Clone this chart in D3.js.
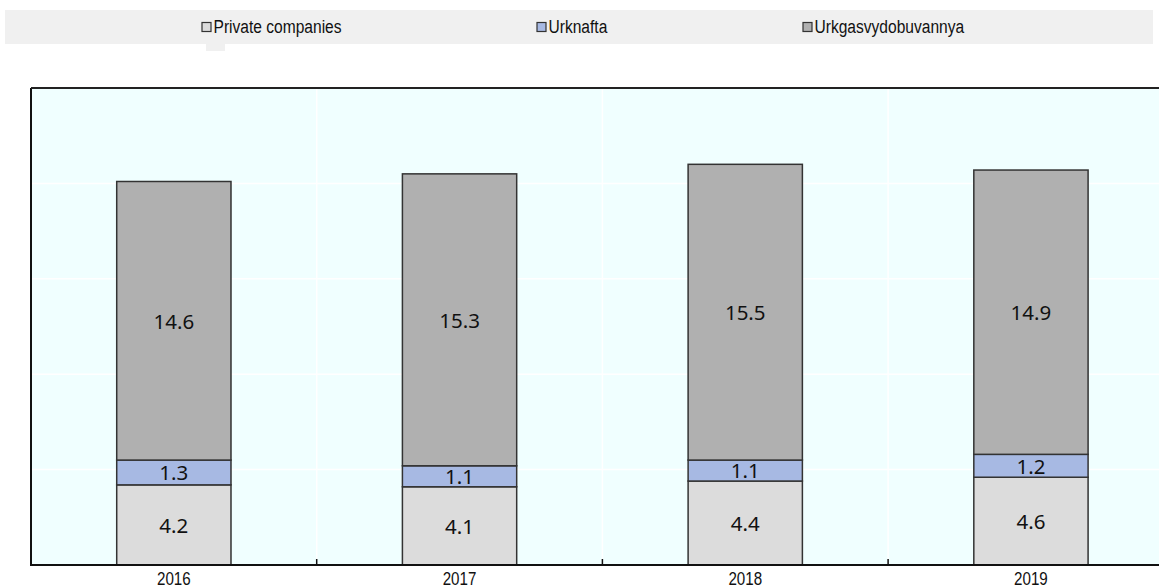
<!DOCTYPE html>
<html>
<head>
<meta charset="utf-8">
<script src="https://cdn.jsdelivr.net/npm/d3@7"></script>
<style>
  body { margin: 0; background: #fff; }
  svg { display: block; }
</style>
</head>
<body>
<svg id="chart" width="1159" height="588"></svg>
<script>
// data
var years = ['2016', '2017', '2018', '2019'];
var seriesNames = ['Private companies', 'Urknafta', 'Urkgasvydobuvannya'];
var privateCompanies = [4.2, 4.1, 4.4, 4.6];
var urknafta = [1.3, 1.1, 1.1, 1.2];
var urkgas = [14.6, 15.3, 15.5, 14.9];
var colors = ['#dcdcdc', '#a7b9e3', '#b0b0b0'];

var svg = d3.select('#chart'),
  plotLeft = 31,
  plotTop = 88,
  plotBottom = 565,
  bandW = 285.7,
  narrowFont = '"Liberation Sans", Arial, sans-serif',
  squeeze = 0.82; // narrow look

var x = d3.scaleBand()
  .domain(years)
  .range([plotLeft, plotLeft + bandW * years.length])
  .padding(0);

var y = d3.scaleLinear()
  .domain([0, 25])
  .range([plotBottom, plotTop]);

// legend band
svg.append('rect')
  .attr('x', 5).attr('y', 10)
  .attr('width', 1148).attr('height', 34)
  .style('fill', '#f0f0f0');
svg.append('rect')
  .attr('x', 206).attr('y', 44)
  .attr('width', 19).attr('height', 7)
  .style('fill', '#f0f0f0');

var legendX = [202, 537, 803];
var legend = svg.selectAll('.legend')
  .data(seriesNames)
  .enter().append('g')
  .attr('class', 'legend')
  .attr('transform', function(d, i) { return 'translate(' + legendX[i] + ',22.5)'; });

legend.append('rect')
  .attr('width', 9).attr('height', 9)
  .style('fill', function(d, i) { return colors[i]; })
  .style('stroke', '#333')
  .style('stroke-width', 1.2);

legend.append('text')
  .attr('transform', 'translate(11.5,10.5) scale(' + squeeze + ',1)')
  .style('font-family', narrowFont)
  .style('font-size', '19px')
  .style('fill', '#111')
  .text(function(d) { return d; });

// plot background
svg.append('rect')
  .attr('x', plotLeft).attr('y', plotTop)
  .attr('width', 1159 - plotLeft).attr('height', plotBottom - plotTop)
  .style('fill', '#f0ffff');

// white grid
svg.selectAll('.hgrid')
  .data([5, 10, 15, 20])
  .enter().append('line')
  .attr('x1', plotLeft).attr('x2', 1159)
  .attr('y1', function(d) { return y(d); })
  .attr('y2', function(d) { return y(d); })
  .style('stroke', '#fff')
  .style('stroke-width', 1.5);

svg.selectAll('.vgrid')
  .data(years.slice(1))
  .enter().append('line')
  .attr('x1', function(d) { return x(d); })
  .attr('x2', function(d) { return x(d); })
  .attr('y1', plotTop).attr('y2', plotBottom)
  .style('stroke', '#fff')
  .style('stroke-width', 1.5);

// stacked bars
var rows = years.map(function(yr, i) {
  return { year: yr, p: privateCompanies[i], u: urknafta[i], g: urkgas[i] };
});
var stack = d3.stack().keys(['p', 'u', 'g'])(rows);

var barW = x.bandwidth() * 0.4;

var layer = svg.selectAll('.layer')
  .data(stack)
  .enter().append('g')
  .attr('class', 'layer')
  .style('fill', function(d, i) { return colors[i]; });

layer.selectAll('rect')
  .data(function(d) { return d; })
  .enter().append('rect')
  .attr('x', function(d) { return x(d.data.year) + (x.bandwidth() - barW) / 2; })
  .attr('y', function(d) { return y(d[1]); })
  .attr('width', barW)
  .attr('height', function(d) { return y(d[0]) - y(d[1]); })
  .style('stroke', '#333')
  .style('stroke-width', 1.5);

layer.selectAll('text')
  .data(function(d) { return d; })
  .enter().append('text')
  .attr('x', function(d) { return x(d.data.year) + x.bandwidth() / 2; })
  .attr('y', function(d) { return (y(d[0]) + y(d[1])) / 2; })
  .attr('dy', '0.38em')
  .attr('text-anchor', 'middle')
  .style('fill', '#111')
  .style('font-family', '"Noto Sans", sans-serif')
  .style('font-size', '20.5px')
  .text(function(d) { return (d[1] - d[0]).toFixed(1); });

// frame: left and top
svg.append('line')
  .attr('x1', plotLeft).attr('x2', plotLeft)
  .attr('y1', plotTop).attr('y2', plotBottom)
  .style('stroke', '#111').style('stroke-width', 2);
svg.append('line')
  .attr('x1', plotLeft).attr('x2', 1159)
  .attr('y1', plotTop).attr('y2', plotTop)
  .style('stroke', '#222').style('stroke-width', 2);

// x axis
var xAxis = d3.axisBottom(x).tickSize(0).tickPadding(0);
var gx = svg.append('g')
  .attr('transform', 'translate(0,' + plotBottom + ')')
  .call(xAxis);
gx.select('.domain').remove();
gx.selectAll('.tick text')
  .attr('y', null).attr('dy', null)
  .attr('transform', 'translate(0,19.5) scale(' + squeeze + ',1)')
  .style('font-family', narrowFont)
  .style('font-size', '18.5px')
  .style('fill', '#111');

svg.append('line')
  .attr('x1', plotLeft - 1).attr('x2', 1159)
  .attr('y1', plotBottom).attr('y2', plotBottom)
  .style('stroke', '#111').style('stroke-width', 2);

svg.selectAll('.tick-up')
  .data(years.slice(1))
  .enter().append('line')
  .attr('x1', function(d) { return x(d); })
  .attr('x2', function(d) { return x(d); })
  .attr('y1', plotBottom).attr('y2', plotBottom - 6)
  .style('stroke', '#111')
  .style('stroke-width', 1.5);
</script>
</body>
</html>
